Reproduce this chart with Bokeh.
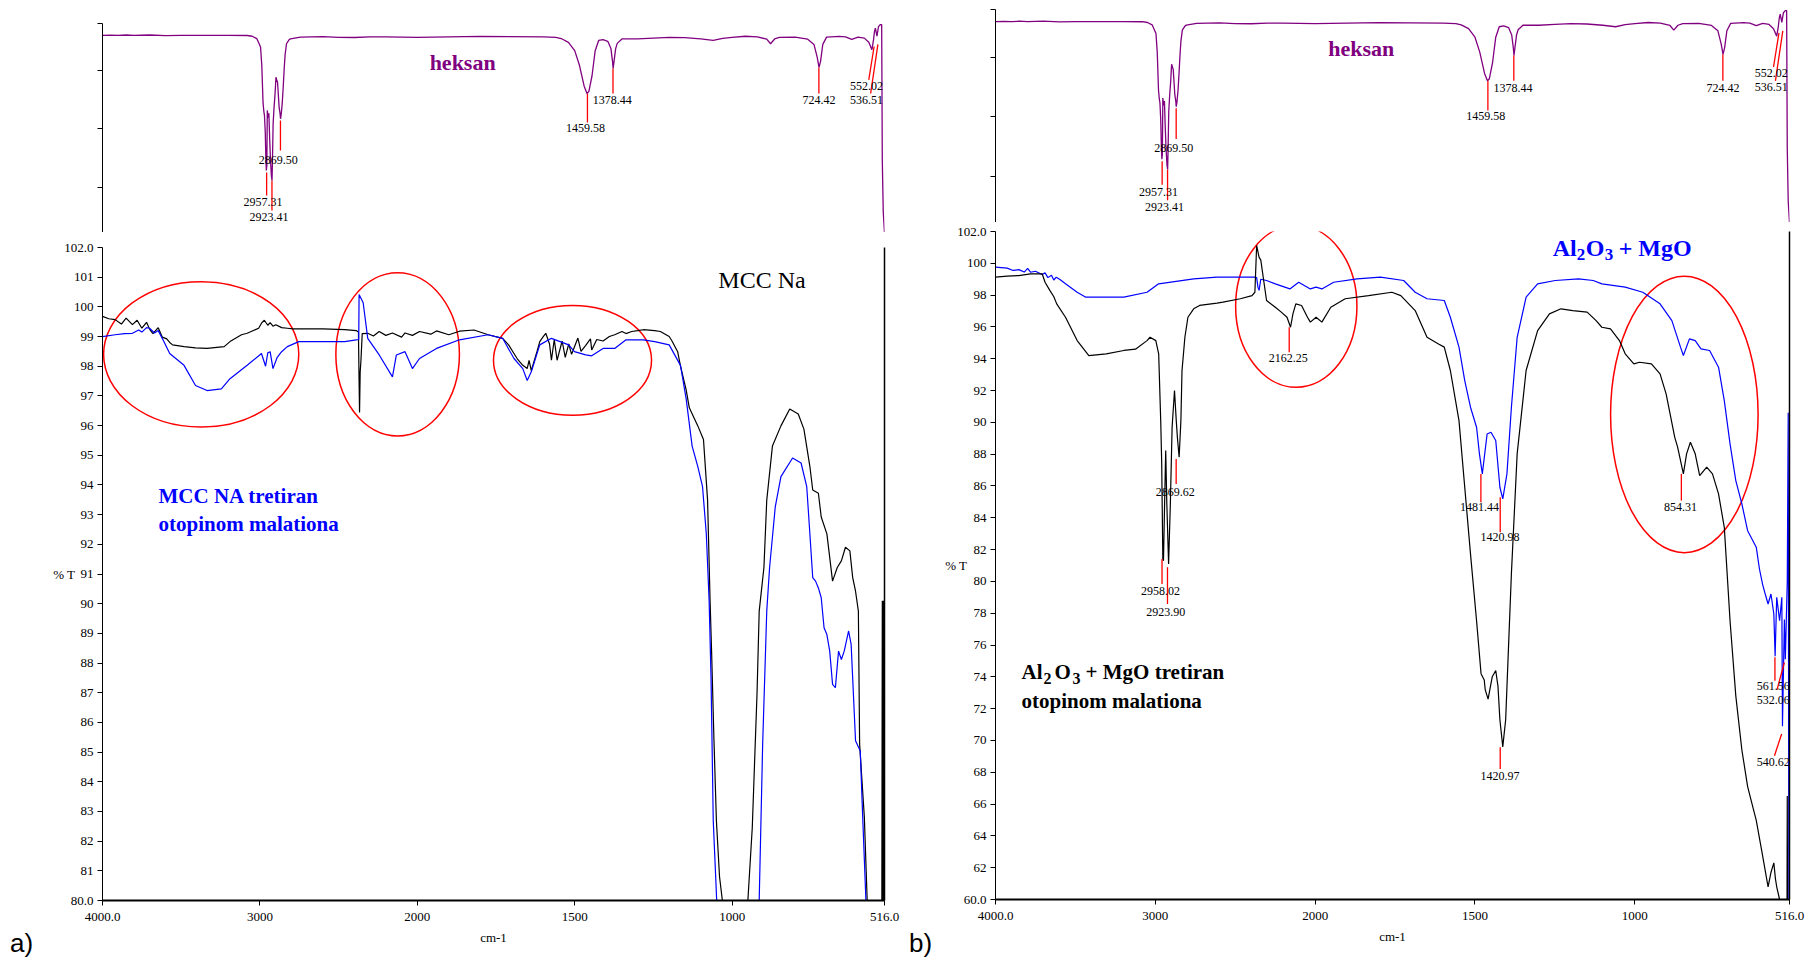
from bokeh.plotting import figure
from bokeh.models import (ColumnDataSource, CustomJSTransform, FixedTicker,
                          LinearAxis, Range1d, Div)
from bokeh.transform import transform
from bokeh.layouts import row, column
from bokeh.embed import file_html
from bokeh.resources import INLINE
from bokeh.core.properties import value

SERIF = "Liberation Serif"

# ---------------------------------------------------------------- axes data
x_tick_wn = [4000, 3000, 2000, 1500, 1000, 516]
x_tick_labels = ["4000.0", "3000", "2000", "1500", "1000", "516.0"]
ya_ticks = list(range(80, 103, 1))
yb_ticks = list(range(60, 103, 2))
hex_ticks = [21.5, 49.8, 77.5, 100]

# ---------------------------------------------------------------- heksan (reference spectrum, arbitrary %T scale)
heksan_wn = [4000, 3950, 3900, 3850, 3800, 3700, 3600, 3500, 3400, 3200, 3081, 3049, 3020, 3005,
             2996, 2988, 2980, 2975, 2971, 2966, 2962, 2959, 2956, 2953, 2948, 2943, 2938, 2933,
             2927, 2923, 2920, 2916, 2910, 2904, 2898, 2893, 2888, 2883, 2878, 2872, 2869, 2864,
             2858, 2852, 2846, 2840, 2831, 2815, 2806, 2742, 2600, 2500, 2400, 2300, 2200, 2000,
             1800, 1600, 1560, 1543, 1520, 1500, 1485, 1470, 1461, 1455, 1445, 1435, 1424, 1410,
             1395, 1385, 1380, 1378, 1375, 1370, 1365, 1350, 1300, 1250, 1200, 1150, 1100, 1060,
             1030, 1000, 958, 920, 890, 878, 865, 850, 800, 760, 740, 730, 724, 719, 712, 700,
             660, 640, 620, 600, 580, 566, 556, 551, 548, 545, 540, 535, 529, 525, 523, 520, 516]
heksan_T = [94.3, 94.4, 94.3, 94.5, 94.3, 94.5, 94.2, 94.3, 94.3, 94.3, 94.26, 93.9, 92.8, 90.3,
            88.7, 80, 62, 58, 56, 48, 35, 29.7, 32, 58.4, 55, 57, 45, 35,
            27, 24.9, 35, 52, 60, 66, 74.3, 73, 71.9, 66, 60, 57, 54.4, 57,
            62, 69.5, 78, 85, 90.3, 92.2, 92.66, 93.5, 93.7, 93.4, 93.3, 93.6, 93.6, 93.4,
            93.8, 93.6, 93.4, 92.8, 91, 87, 80, 70, 66.5, 67.5, 75, 87, 91.9, 92.3,
            91.5, 88, 82, 78.5, 82, 88, 90.5, 92.6, 92.6, 93.0, 93.4, 93.2, 92.6, 91.9,
            92.9, 93.4, 93.9, 93.6, 92.5, 90.3, 92.6, 93.4, 93.5, 92.5, 90, 84, 79, 82, 90, 93.5,
            93.8, 93.6, 92.4, 93.5, 93.0, 91, 87.5, 92, 96, 97.8, 94, 98.5, 99.5, 99.5, 34.7, 10, 0]

heksan_peak_text = ["2957.31", "2923.41", "2869.50", "1459.58", "1378.44", "724.42", "552.02", "536.51"]
heksan_peak_label_wn = [2980, 2942, 2884, 1466, 1381, 724, 573, 573]
heksan_peak_label_T = [14.4, 7.2, 34.9, 49.8, 63.2, 63.2, 70.0, 63.5]
heksan_tick_w0 = [2957.31, 2923.41, 2869.50, 1459.58, 1378.44, 724.42, 549, 537]
heksan_tick_T0 = [28.7, 24.9, 53.6, 66.5, 78.5, 79.0, 89.0, 90.0]
heksan_tick_w1 = [2957.31, 2923.41, 2869.50, 1459.58, 1378.44, 724.42, 566, 560]
heksan_tick_T1 = [17.7, 10.5, 39.2, 52.6, 66.5, 66.5, 73.0, 66.5]

# ---------------------------------------------------------------- panel a: MCC Na (black)
mcc_wn = [4000, 3960, 3920, 3880, 3850, 3810, 3780, 3750, 3720, 3701, 3680, 3646, 3620, 3592,
          3573, 3555, 3482, 3409, 3336, 3227, 3190, 3117, 3081, 3008, 2990, 2972, 2950, 2935,
          2917, 2899, 2862, 2826, 2789, 2600, 2461, 2388, 2374, 2370, 2367, 2363, 2358, 2350,
          2315, 2279, 2242, 2200, 2158, 2100, 2078, 2031, 1993, 1957, 1939, 1900, 1866, 1820,
          1775, 1729, 1710, 1693, 1683, 1665, 1651, 1645, 1638, 1620, 1611, 1600, 1592, 1580,
          1574, 1565, 1556, 1540, 1530, 1519, 1510, 1501, 1490, 1480, 1465, 1450, 1446, 1430,
          1410, 1390, 1373, 1350, 1337, 1319, 1300, 1282, 1246, 1228, 1200, 1191, 1173, 1164,
          1146, 1136, 1109, 1091, 1078, 1070, 1065, 1058, 1050, 1040, 1031, 1000, 960, 950,
          936, 921, 914, 899, 890, 872, 845, 817, 790, 772, 753, 744, 726, 717, 699, 681, 666,
          653, 640, 626, 617, 608, 599, 595, 580, 571, 550, 525, 523, 522, 521, 520, 519, 518,
          517, 516]
mcc_T = [99.68, 99.6, 99.57, 99.42, 99.62, 99.40, 99.55, 99.28, 99.48, 99.25, 99.10, 99.30, 98.98, 98.92,
         98.80, 98.72, 98.66, 98.62, 98.60, 98.66, 98.83, 99.06, 99.11, 99.28, 99.45, 99.55, 99.38, 99.47,
         99.35, 99.40, 99.30, 99.28, 99.26, 99.26, 99.23, 99.20, 99.15, 97.5, 96.44, 97.8, 98.2, 99.1,
         99.11, 99.02, 99.17, 99.04, 99.12, 98.98, 99.12, 99.04, 99.17, 99.08, 99.19, 99.06, 99.18, 99.22,
         99.06, 98.94, 98.72, 98.43, 98.26, 98.03, 97.92, 98.2, 97.85, 98.49, 98.83, 99.0, 99.11, 98.75,
         98.2, 98.9, 98.2, 98.85, 98.3, 98.75, 98.4, 98.65, 98.95, 98.5, 98.7, 98.92, 98.55, 98.9,
         98.85, 99.0, 99.06, 99.17, 99.1, 99.17, 99.2, 99.23, 99.2, 99.17, 99.0, 98.85, 98.49, 98.0,
         97.2, 96.6, 95.99, 95.53, 93.49, 90.08, 88.3, 85.5, 82.7, 80.8, 80.0, 72, 74, 80.0,
         82.46, 86.95, 89.75, 91.22, 93.49, 95.31, 95.99, 96.56, 96.39, 95.88, 94.62, 93.83, 93.72, 92.92, 92.35, 90.76, 91.22,
         91.44, 91.9, 91.78, 90.88, 90.42, 89.75, 85.27, 82.8, 80.0, 76, 76, 90.1, 76, 90.1, 76, 90.1, 76,
         90.0, 76]

# ---------------------------------------------------------------- panel a: MCC Na treated (blue)
mcc_t_wn = [4000, 3920, 3860, 3810, 3770, 3750, 3720, 3701, 3670, 3646, 3610, 3573, 3482, 3409,
            3336, 3245, 3190, 3081, 2990, 2964, 2950, 2935, 2917, 2890, 2862, 2826, 2753, 2461,
            2388, 2372, 2370, 2344, 2315, 2242, 2158, 2133, 2078, 2031, 1993, 1939, 1866, 1775,
            1729, 1693, 1665, 1651, 1638, 1611, 1574, 1519, 1501, 1465, 1446, 1410, 1373, 1337,
            1282, 1246, 1200, 1164, 1146, 1127, 1109, 1094, 1082, 1073, 1067, 1060, 1049, 1000,
            950, 914, 903, 890, 881, 863, 845, 808, 781, 763, 753, 744, 735, 726, 717, 708, 699,
            690, 681, 672, 662, 653, 644, 630, 622, 608, 593, 586, 575, 550, 516]
mcc_t_T = [99.0, 99.06, 99.1, 99.11, 99.22, 99.15, 99.3, 99.28, 99.12, 99.2, 98.83, 98.43, 98.03, 97.35,
           97.18, 97.24, 97.58, 98.03, 98.43, 98.0, 98.45, 98.49, 97.92, 98.3, 98.49, 98.66, 98.83, 98.83,
           98.89, 98.9, 100.42, 100.14, 98.94, 98.38, 97.64, 98.38, 98.49, 97.92, 98.26, 98.6, 98.89, 99.06,
           98.94, 98.26, 97.92, 97.52, 97.81, 98.72, 98.94, 98.72, 98.49, 98.38, 98.35, 98.6, 98.6, 98.89,
           98.89, 98.83, 98.72, 98.03, 96.9, 95.31, 94.62, 93.94, 92.35, 90.08, 87.5, 82.7, 80.0, 70,
           70, 80.0, 85.27, 89.75, 91.22, 93.26, 94.28, 94.91, 94.74, 93.94, 92.35, 90.88, 90.76, 90.53, 90.2, 89.19, 88.96,
           88.4, 87.28, 87.17, 88.4, 88.12, 88.4, 89.08, 88.63, 85.38, 85.04, 83.02, 80.0, 75, 75]

# ---------------------------------------------------------------- panel b: Al2O3 + MgO (blue)
al_wn = [4000, 3927, 3890, 3854, 3820, 3799, 3781, 3750, 3708, 3690, 3672, 3650, 3635, 3620,
         3599, 3562, 3489, 3435, 3197, 3052, 2979, 2760, 2614, 2377, 2366, 2358, 2351, 2340,
         2304, 2249, 2158, 2103, 2030, 1997, 1979, 1942, 1869, 1796, 1723, 1687, 1650, 1596,
         1577, 1550, 1532, 1514, 1495, 1486, 1477, 1462, 1450, 1435, 1422, 1413, 1400, 1386,
         1368, 1340, 1304, 1249, 1176, 1130, 1103, 1030, 975, 921, 884, 857, 848, 829, 811,
         793, 766, 738, 720, 702, 684, 665, 647, 620, 610, 600, 592, 583, 574, 565, 561, 556,
         547, 540, 538, 532, 529, 523, 520, 518, 517, 516]
al_T = [99.76, 99.7, 99.55, 99.6, 99.45, 99.68, 99.44, 99.5, 99.3, 99.4, 99.1, 99.25, 98.95, 99.13,
        99.0, 98.71, 98.18, 97.87, 97.87, 98.18, 98.71, 99.02, 99.13, 99.13, 99.1, 98.5, 98.3, 99.0,
        98.92, 98.71, 98.39, 98.81, 98.39, 98.5, 98.39, 98.81, 99.02, 99.13, 98.92, 98.18, 97.77, 97.66,
        96.61, 94.73, 92.63, 90.95, 89.69, 88.02, 86.76, 89.27, 89.38, 88.86, 85.92, 85.19, 86.76, 90.95,
        95.35, 97.87, 98.71, 98.92, 99.02, 98.92, 98.71, 98.5, 98.18, 97.45, 96.4, 94.73, 94.2, 95.25, 95.14,
        94.62, 94.52, 93.47, 91.37, 88.65, 86.34, 84.87, 83.19, 82.15, 80.78, 79.8, 79.21, 78.58, 79.21, 77.95, 75.3, 79.0,
        77.53, 79.0, 70.9, 77.6, 75.1, 80.0, 90.6, 60, 60, 63.4]

# ---------------------------------------------------------------- panel b: Al2O3 + MgO treated (black)
al_t_wn = [4000, 3927, 3854, 3781, 3708, 3690, 3660, 3635, 3617, 3562, 3489, 3416, 3307, 3197,
           3124, 3052, 3033, 2997, 2979, 2966, 2960, 2953, 2949, 2942, 2935, 2928, 2917, 2906,
           2895, 2880, 2869, 2862, 2851, 2840, 2833, 2815, 2796, 2760, 2723, 2614, 2577, 2468,
           2395, 2377, 2366, 2351, 2340, 2322, 2304, 2249, 2212, 2176, 2154, 2139, 2121, 2085,
           2048, 2030, 1997, 1979, 1951, 1906, 1833, 1760, 1732, 1687, 1650, 1614, 1596, 1577,
           1550, 1532, 1514, 1495, 1481, 1471, 1468, 1459, 1446, 1435, 1428, 1422, 1413, 1404,
           1395, 1386, 1368, 1340, 1304, 1267, 1231, 1194, 1149, 1121, 1103, 1076, 1048, 1030,
           1003, 985, 948, 921, 902, 875, 866, 848, 838, 826, 811, 797, 775, 757, 738, 720, 702,
           684, 665, 647, 620, 602, 583, 574, 565, 560, 556, 547, 535, 524, 523, 522, 516]
al_t_T = [99.13, 99.2, 99.23, 99.34, 99.34, 98.81, 98.3, 97.9, 97.45, 96.61, 95.14, 94.2, 94.31, 94.52,
          94.6, 95.14, 95.35, 95.14, 94.31, 90.0, 87.39, 81.41, 81.3, 84.87, 88.23, 84.87, 81.1, 84.87,
          89.69, 92.0, 90.11, 89.06, 87.81, 90.11, 93.26, 95.35, 96.61, 97.14, 97.35, 97.5, 97.56, 97.77,
          97.97, 98.18, 101.12, 100.39, 100.2, 98.92, 97.66, 97.24, 96.93, 96.61, 95.98, 96.82, 97.45, 97.35,
          96.61, 96.3, 96.61, 96.3, 97.24, 97.77, 97.97, 98.18, 97.97, 97.03, 95.35, 94.93, 94.73, 93.26,
          90.11, 85.92, 81.73, 77.53, 74.2, 73.8, 73.2, 72.6, 74.0, 74.4, 73.4, 71.3, 69.6, 71.3,
          75.9, 80.5, 88.02, 93.26, 95.77, 96.82, 97.14, 97.03, 96.93, 96.4, 95.98, 95.88, 95.14, 94.31,
          93.68, 93.78, 93.68, 93.05, 91.79, 89.06, 88.44, 86.76, 88.02, 88.75, 88.02, 86.65, 87.18, 86.76, 85.5, 83.4, 77.53,
          72.8, 69.4, 67.1, 64.97, 62.96, 60.8, 61.7, 62.3, 61.3, 60.8, 60.0, 58, 58, 66.5, 58, 58]

# ---------------------------------------------------------------- panel b peak annotations
b_peak_text = ["2958.02", "2923.90", "2869.62", "2162.25", "1481.44", "1420.98", "854.31",
               "1420.97", "561.56", "532.06", "540.62"]
b_peak_label_wn = [2968, 2935, 2876, 2169, 1486, 1422, 857, 1422, 567, 567, 567]
b_peak_label_T = [79.38, 78.06, 85.6, 94.05, 84.66, 82.77, 84.66, 67.79, 73.45, 72.55, 68.62]
b_tick_w0 = [2958.02, 2923.90, 2869.62, 2162.25, 1481.44, 1420.98, 854.31, 1420.97, 561.56, 532, 540.62]
b_tick_T0 = [81.41, 80.89, 87.7, 95.98, 86.76, 85.29, 86.76, 69.57, 75.23, 74.9, 70.41]
b_tick_w1 = [2958.02, 2923.90, 2869.62, 2162.25, 1481.44, 1420.98, 854.31, 1420.97, 561.56, 555, 563]
b_tick_T1 = [79.84, 78.58, 86.13, 94.41, 84.98, 83.09, 85.08, 68.2, 73.76, 73.2, 69.04]

# ---------------------------------------------------------------- highlighted regions (ellipses)
a_ell_wn = [3373, 2125, 1507]
a_ell_T = [98.4, 98.4, 98.2]
b_ell_wn = [2118, 845]
b_ell_T = [97.3, 90.5]

panel_letters = ["a)", "b)"]


# ================================================================= helpers
def axis_pos(w):
    """Position on the spectrometer's abscissa (x2 expansion below 2000 cm-1)."""
    return 4000 - w if w >= 2000 else 2000 + 2 * (2000 - w)


X_END = axis_pos(516)

WN = CustomJSTransform(
    func="return x >= 2000 ? 4000 - x : 2000 + 2 * (2000 - x);",
    v_func="""
const out = new Array(xs.length);
for (let i = 0; i < xs.length; i++) {
  const w = xs[i];
  out[i] = w >= 2000 ? 4000 - w : 2000 + 2 * (2000 - w);
}
return out;
""")


def style_axis(ax, size="13px"):
    ax.axis_line_color = "black"
    ax.major_tick_line_color = "black"
    ax.minor_tick_line_color = None
    ax.major_tick_in = 0
    ax.major_tick_out = 5
    ax.major_label_text_font = SERIF
    ax.major_label_text_font_size = size
    ax.major_label_text_color = "black"
    ax.axis_label_text_font = SERIF
    ax.axis_label_text_font_style = "normal"
    ax.axis_label_text_font_size = size
    ax.axis_label_text_color = "black"


def base_fig(width, height, borders, y_range, x_axis=True):
    bl, br, bt, bb = borders
    p = figure(width=width, height=height, x_range=Range1d(0, X_END), y_range=y_range,
               x_axis_location="below" if x_axis else None, title=None,
               output_backend="svg", toolbar_location=None,
               min_border_left=bl, min_border_right=br, min_border_top=bt, min_border_bottom=bb)
    p.outline_line_color = None
    p.grid.visible = False
    p.background_fill_color = "white"
    p.border_fill_color = None
    return p


def heksan_fig(width, height, borders):
    p = base_fig(width, height, borders, Range1d(0, 100), x_axis=False)
    style_axis(p.yaxis[0])
    p.yaxis.ticker = FixedTicker(ticks=hex_ticks)
    p.yaxis.major_label_overrides = {t: "" for t in hex_ticks}
    p.yaxis.major_label_standoff = 0
    seg = ColumnDataSource(dict(w0=heksan_tick_w0, t0=heksan_tick_T0, w1=heksan_tick_w1, t1=heksan_tick_T1))
    p.segment(x0=transform("w0", WN), y0="t0", x1=transform("w1", WN), y1="t1", source=seg,
              line_color="#ff0000", line_width=1.3)
    src = ColumnDataSource(dict(w=heksan_wn, t=heksan_T))
    p.line(x=transform("w", WN), y="t", source=src, line_color="#800080", line_width=1.3)
    lab = ColumnDataSource(dict(w=heksan_peak_label_wn, t=heksan_peak_label_T, s=heksan_peak_text))
    p.text(x=transform("w", WN), y="t", text="s", source=lab, text_font=value(SERIF),
           text_font_size="12px", text_align="center", text_baseline="middle", text_color="black")
    name = ColumnDataSource(dict(w=[1856], t=[81.5], s=["heksan"]))
    p.text(x=transform("w", WN), y="t", text="s", source=name, text_font=value(SERIF),
           text_font_size="22px", text_font_style="bold", text_color="#800080",
           text_align="center", text_baseline="alphabetic")
    return p


def main_fig(width, height, borders, y0, y1, yticks, ylabel_standoff):
    p = base_fig(width, height, borders, Range1d(y0, y1))
    style_axis(p.xaxis[0])
    style_axis(p.yaxis[0])
    p.xaxis.ticker = FixedTicker(ticks=[axis_pos(w) for w in x_tick_wn])
    p.xaxis.major_label_overrides = {axis_pos(w): lab for w, lab in zip(x_tick_wn, x_tick_labels)}
    p.xaxis.axis_label = "cm-1"
    p.xaxis.axis_line_width = 2
    p.xaxis.major_label_standoff = 7
    p.xaxis.axis_label_standoff = 6
    p.yaxis.ticker = FixedTicker(ticks=yticks)
    p.yaxis.major_label_overrides = {yticks[0]: f"{yticks[0]}.0", yticks[-1]: f"{yticks[-1]}.0"}
    p.yaxis.axis_label = "% T"
    p.yaxis.axis_label_orientation = "horizontal"
    p.yaxis.major_label_standoff = 4
    p.yaxis.axis_label_standoff = ylabel_standoff
    right = LinearAxis(ticker=FixedTicker(ticks=[]),
                       major_tick_line_color=None, minor_tick_line_color=None,
                       major_tick_out=0, major_tick_in=0, major_label_standoff=0,
                       axis_line_color="black", axis_line_width=1.5)
    p.add_layout(right, "right")
    return p


def add_curve(p, wn, t, color):
    src = ColumnDataSource(dict(w=wn, t=t))
    p.line(x=transform("w", WN), y="t", source=src, line_color=color, line_width=1.2)


def add_ellipses(p, wn, t, widths, heights):
    src = ColumnDataSource(dict(w=wn, t=t, ew=widths, eh=heights))
    p.ellipse(x=transform("w", WN), y="t", width="ew", height="eh", source=src,
              fill_color=None, line_color="#ff0000", line_width=1.5)


def add_texts(p, wn, t, texts, color, size, style="bold", align="left", dx=None, dy=None, sizes=None):
    n = len(texts)
    src = ColumnDataSource(dict(w=wn, t=t, s=texts,
                                dx=dx if dx else [0] * n, dy=dy if dy else [0] * n,
                                fs=sizes if sizes else [size] * n))
    p.text(x=transform("w", WN), y="t", text="s", source=src, x_offset="dx", y_offset="dy",
           text_font=value(SERIF), text_font_size="fs", text_font_style=style,
           text_color=color, text_align=align, text_baseline="alphabetic")


def letter_div(txt, left):
    # panel letter, pulled up into the bottom margin of the figure above it
    return Div(text=txt, width=40, height=35, margin=(-35, 0, 0, left),
               styles={"font-family": "Liberation Sans, sans-serif", "font-size": "26px",
                       "line-height": "30px", "color": "black",
                       "position": "relative", "z-index": "10"})


# ================================================================= panel a
ha = heksan_fig(904, 232, (102, 20, 23, 0))
ma = main_fig(904, 731, (102, 20, 15, 63), 80, 102, ya_ticks, -14)
add_ellipses(ma, a_ell_wn, a_ell_T, [1240, 785, 1004], [4.9, 5.5, 3.7])
add_curve(ma, mcc_wn, mcc_T, "black")
add_curve(ma, mcc_t_wn, mcc_t_T, "#0000ff")
add_texts(ma, [905], [100.92], ["MCC Na"], "black", "24px", style="normal", align="center")
add_texts(ma, [3644, 3644], [93.62, 92.68], ["MCC NA tretiran", "otopinom malationa"], "#0000ff", "21px")

# ================================================================= panel b
hb = heksan_fig(910, 222, (90, 25, 9, 0))
mb = main_fig(910, 741, (91, 25, 9, 64), 60, 102, yb_ticks, -13)
add_ellipses(mb, b_ell_wn, b_ell_T, [759, 923], [10.2, 17.4])
add_curve(mb, al_wn, al_T, "#0000ff")
add_curve(mb, al_t_wn, al_t_T, "black")
pk = ColumnDataSource(dict(w0=b_tick_w0, t0=b_tick_T0, w1=b_tick_w1, t1=b_tick_T1))
mb.segment(x0=transform("w0", WN), y0="t0", x1=transform("w1", WN), y1="t1", source=pk,
           line_color="#ff0000", line_width=1.3)
pl = ColumnDataSource(dict(w=b_peak_label_wn, t=b_peak_label_T, s=b_peak_text))
mb.text(x=transform("w", WN), y="t", text="s", source=pl, text_font=value(SERIF),
        text_font_size="12px", text_align="center", text_baseline="middle", text_color="black")
# "Al2O3 + MgO" (blue), built from pieces so the indices sit lower
add_texts(mb, [1257] * 5, [100.95] * 5, ["Al", "2", "O", "3", "+ MgO"], "#0000ff", "24px",
          dx=[0, 24, 33, 52, 66], dy=[0, 6, 0, 6, 0], sizes=["24px", "17px", "24px", "17px", "24px"])
add_texts(mb, [3837] * 5, [74.3] * 5, ["Al", "2", "O", "3", "+ MgO tretiran"], "black", "21px",
          dx=[0, 22, 33, 51, 64], dy=[0, 6, 0, 6, 0], sizes=["21px", "16px", "21px", "16px", "21px"])
add_texts(mb, [3837], [72.5], ["otopinom malationa"], "black", "21px")

layout = row(column(ha, ma, letter_div(panel_letters[0], 10)),
             column(hb, mb, letter_div(panel_letters[1], 5)))

with open("out.html", "w") as f:
    f.write(file_html(layout, INLINE))
